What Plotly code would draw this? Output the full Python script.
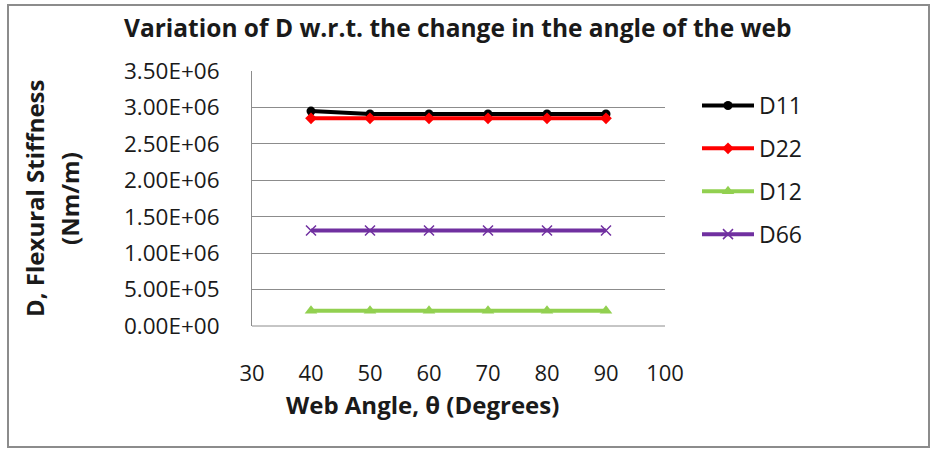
import plotly.graph_objects as go

angles = [40, 50, 60, 70, 80, 90]
d11 = [2.95e6, 2.91e6, 2.91e6, 2.91e6, 2.91e6, 2.91e6]
d22 = [2.85e6, 2.85e6, 2.85e6, 2.85e6, 2.85e6, 2.85e6]
d12 = [2.1e5, 2.1e5, 2.1e5, 2.1e5, 2.1e5, 2.1e5]
d66 = [1.31e6, 1.31e6, 1.31e6, 1.31e6, 1.31e6, 1.31e6]
y_ticks = [0, 5e5, 1e6, 1.5e6, 2e6, 2.5e6, 3e6, 3.5e6]
y_tick_labels = ["0.00E+00", "5.00E+05", "1.00E+06", "1.50E+06",
                 "2.00E+06", "2.50E+06", "3.00E+06", "3.50E+06"]
x_ticks = [30, 40, 50, 60, 70, 80, 90, 100]

FONT = "Open Sans"
W, H = 932, 449
L, R, T, B = 252, 267, 71, 123
pw, ph = W - L - R, H - T - B

def px(x):
    return (x - L) / pw

def py(y):
    return (H - B - y) / ph

series = [
    ("D11", d11, "#000000", dict(symbol="circle", size=9)),
    ("D22", d22, "#FF0000", dict(symbol="diamond", size=9)),
    ("D12", d12, "#92D050", dict(symbol="triangle-up", size=11)),
    ("D66", d66, "#7030A0", dict(symbol="x-thin-open", size=10, line=dict(width=1.5, color="#7030A0"))),
]

fig = go.Figure()
for name, vals, col, mk in series:
    mk = dict(mk)
    mk["color"] = col
    fig.add_trace(go.Scatter(x=angles, y=vals, name=name, mode="lines+markers",
                             legendgroup=name,
                             line=dict(color=col, width=4), marker=mk))

TXT = "#1a1a1a"
fig.update_layout(
    width=W, height=H,
    margin=dict(l=L, r=R, t=T, b=B),
    paper_bgcolor="white", plot_bgcolor="white",
    font=dict(family=FONT, size=22, color=TXT),
    showlegend=True,
    legend=dict(x=px(697), y=py(84), xanchor="left", yanchor="top",
                font=dict(family=FONT, size=23, color=TXT),
                tracegroupgap=10, itemwidth=52, bgcolor="rgba(0,0,0,0)"),
    xaxis=dict(range=[30, 100], tickvals=x_ticks, showgrid=False, zeroline=False,
               showline=False, ticks="", ticklabelstandoff=32,
               tickfont=dict(family=FONT, size=22, color=TXT)),
    yaxis=dict(range=[0, 3.5e6], tickvals=y_ticks, ticktext=y_tick_labels,
               showgrid=True, gridcolor="#8c8c8c", gridwidth=1, zeroline=False,
               showline=True, linecolor="#8c8c8c", linewidth=1, ticks="",
               ticklabelstandoff=27,
               tickfont=dict(family=FONT, size=22.5, color=TXT)),
    shapes=[dict(type="rect", xref="paper", yref="paper",
                 x0=px(8), x1=px(929), y0=py(447), y1=py(5),
                 line=dict(color="#8c8c8c", width=2), layer="below"),
            dict(type="line", xref="paper", yref="paper",
                 x0=0, x1=1, y0=0, y1=0, line=dict(color="#8c8c8c", width=1))],
    annotations=[
        dict(text="<b>Variation of D w.r.t. the change in the angle of the web</b>",
             xref="paper", yref="paper", x=px(457), y=py(28), showarrow=False,
             xanchor="center", yanchor="middle", font=dict(family=FONT, size=24.5, color=TXT)),
        dict(text="<b>D, Flexural Stiffness</b>", textangle=-90,
             xref="paper", yref="paper", x=px(34), y=py(198), showarrow=False,
             xanchor="center", yanchor="middle", font=dict(family=FONT, size=24, color=TXT)),
        dict(text="<b>(Nm/m)</b>", textangle=-90,
             xref="paper", yref="paper", x=px(69), y=py(199), showarrow=False,
             xanchor="center", yanchor="middle", font=dict(family=FONT, size=24, color=TXT)),
        dict(text="<b>Web Angle, θ (Degrees)</b>",
             xref="paper", yref="paper", x=px(422), y=py(404), showarrow=False,
             xanchor="center", yanchor="middle", font=dict(family=FONT, size=24, color=TXT)),
    ],
)

fig.write_html("out.html")
